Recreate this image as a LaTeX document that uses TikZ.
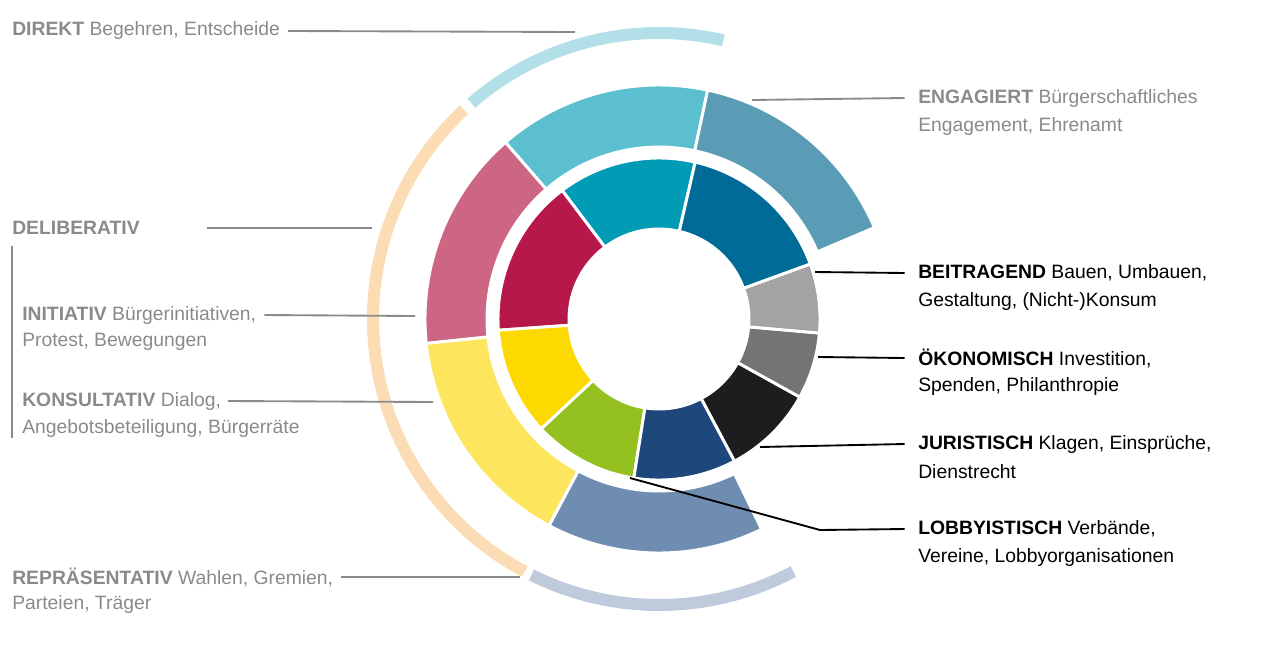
\documentclass[tikz,border=0pt]{standalone}
\usepackage{fontspec}
\setmainfont{Liberation Sans}
\definecolor{labelgray}{HTML}{8A8A8A}
\definecolor{cteal}{HTML}{009BB5}
\definecolor{cdarkblue}{HTML}{006B96}
\definecolor{cgray}{HTML}{A3A3A3}
\definecolor{cdarkgray}{HTML}{757373}
\definecolor{cblack}{HTML}{1D1D1F}
\definecolor{cnavy}{HTML}{1E477C}
\definecolor{cgreen}{HTML}{94C11F}
\definecolor{cyellow}{HTML}{FCD900}
\definecolor{cred}{HTML}{B7184A}
\definecolor{clteal}{HTML}{5BBFCF}
\definecolor{csteel}{HTML}{5A9CB6}
\definecolor{cpink}{HTML}{CC6683}
\definecolor{clyellow}{HTML}{FDE55D}
\definecolor{cbluegrey}{HTML}{6F8DB0}
\definecolor{clblue}{HTML}{B3E0E8}
\definecolor{cpeach}{HTML}{FBDCB4}
\definecolor{cgreyblue}{HTML}{BFCBDC}
\tikzset{
  lbl/.style={anchor=west, inner sep=0pt, font=\fontsize{14.5}{21}\selectfont},
  glbl/.style={lbl, text=labelgray},
  lead/.style={labelgray, line width=1.4pt},
  blead/.style={black, line width=1.4pt},
  outring/.style={line width=9pt, line cap=butt}
}
% ring segment: inner r, outer r, start angle, end angle, colour
\newcommand\ringseg[5]{\filldraw[fill=#5, draw=white, line width=2.2pt]
  (#3:#1) arc[start angle=#3, end angle=#4, radius=#1] -- (#4:#2)
  arc[start angle=#4, end angle=#3, radius=#2] -- cycle;}
\begin{document}
\begin{tikzpicture}[x=0.75pt, y=-0.75pt]
\useasboundingbox (0,0) rectangle (1280,650);

\begin{scope}[shift={(659,319)}, yscale=-1]
% inner ring
\ringseg{90}{161}{77}{127}{cteal}
\ringseg{90}{161}{127}{184}{cred}
\ringseg{90}{161}{184}{223}{cyellow}
\ringseg{90}{161}{223}{261}{cgreen}
\ringseg{90}{161}{261}{298}{cnavy}
\ringseg{90}{161}{298}{331}{cblack}
\ringseg{90}{161}{331}{355}{cdarkgray}
\ringseg{90}{161}{355}{380}{cgray}
\ringseg{90}{161}{20}{77}{cdarkblue}
% middle ring
\ringseg{172}{234}{78}{131}{clteal}
\ringseg{172}{234}{23}{78}{csteel}
\ringseg{172}{234}{131}{186}{cpink}
\ringseg{172}{234}{186}{242}{clyellow}
\ringseg{172}{234}{242}{296}{cbluegrey}
% outer ring
\draw[outring, clblue] (131:286) arc[start angle=131, end angle=77, radius=286];
\draw[outring, cpeach] (133:286) arc[start angle=133, end angle=242, radius=286];
\draw[outring, cgreyblue] (243.5:286) arc[start angle=243.5, end angle=298, radius=286];
\end{scope}

% left labels
\node[glbl] (direkt) at (12,31) {\textbf{DIREKT} Begehren, Entscheide};
\node[glbl] (delib) at (12,228) {\textbf{DELIBERATIV}};
\node[glbl] (initiativ) at (22,315) {\textbf{INITIATIV} Bürgerinitiativen,};
\node[glbl] (initiativ2) at (22,342) {Protest, Bewegungen};
\node[glbl] (konsult) at (22,401) {\textbf{KONSULTATIV} Dialog,};
\node[glbl] (konsult2) at (22,428) {Angebotsbeteiligung, Bürgerräte};
\node[glbl] (repr) at (12,577) {\textbf{REPRÄSENTATIV} Wahlen, Gremien,};
\node[glbl] (repr2) at (12,604) {Parteien, Träger};
% right labels
\node[glbl] (engagiert) at (918,98) {\textbf{ENGAGIERT} Bürgerschaftliches};
\node[glbl] (engagiert2) at (918,126) {Engagement, Ehrenamt};
\node[lbl] (beitrag) at (918,273) {\textbf{BEITRAGEND} Bauen, Umbauen,};
\node[lbl] (beitrag2) at (918,301) {Gestaltung, (Nicht-)Konsum};
\node[lbl] (oekon) at (918,358) {\textbf{ÖKONOMISCH} Investition,};
\node[lbl] (oekon2) at (918,386) {Spenden, Philanthropie};
\node[lbl] (jur) at (918,444) {\textbf{JURISTISCH} Klagen, Einsprüche,};
\node[lbl] (jur2) at (918,472) {Dienstrecht};
\node[lbl] (lobby) at (918,529) {\textbf{LOBBYISTISCH} Verbände,};
\node[lbl] (lobby2) at (918,557) {Vereine, Lobbyorganisationen};

% ring-side ends of the leaders
\coordinate (c-direkt) at (575,32);
\coordinate (c-delib) at (372,228);
\coordinate (c-initiativ) at (415,316);
\coordinate (c-konsult) at (433,402);
\coordinate (c-repr) at (520,577);
\coordinate (c-engagiert) at (752,100);
\coordinate (c-beitrag) at (815,272);
\coordinate (c-oekon) at (818,357);
\coordinate (c-jur) at (760,447);
\coordinate (c-lobby) at (630,478);
\coordinate (c-lobbyknee) at (820,530);

\draw[lead] ([xshift=6pt]direkt.east) -- (c-direkt);
\draw[lead] ([xshift=50pt]delib.east) -- (c-delib);
\draw[lead] ([xshift=6pt]initiativ.east) -- (c-initiativ);
\draw[lead] ([xshift=5pt]konsult.east) -- (c-konsult);
\draw[lead] ([xshift=6pt]repr.east) -- (c-repr);
\draw[labelgray, line width=0.8pt] (12,246) -- (12,438);
\draw[lead] ([xshift=-10pt]engagiert.west) -- (c-engagiert);
\draw[blead] ([xshift=-10pt]beitrag.west) -- (c-beitrag);
\draw[blead] ([xshift=-10pt]oekon.west) -- (c-oekon);
\draw[blead] ([xshift=-10pt]jur.west) -- (c-jur);
\draw[blead] ([xshift=-10pt]lobby.west) -- (c-lobbyknee) -- (c-lobby);
\end{tikzpicture}
\end{document}
